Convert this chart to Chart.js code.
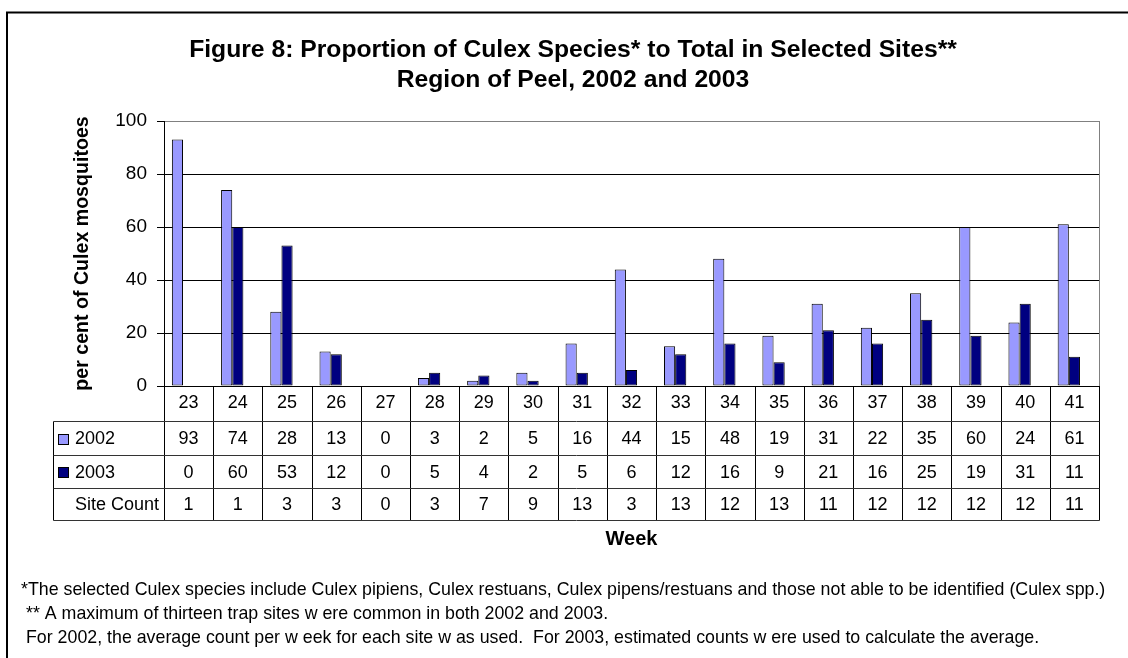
<!DOCTYPE html>
<html>
<head>
<meta charset="utf-8">
<title>Proportion of Culex Species</title>
<script src="https://cdn.jsdelivr.net/npm/chart.js@4.4.1/dist/chart.umd.min.js"></script>
<style>
  html, body { margin: 0; padding: 0; background: #ffffff; }
  canvas { display: block; }
</style>
</head>
<body>
<canvas id="chart" width="1128" height="658"></canvas>
<script>
// Week numbers along the category axis
const weeks = ['23', '24', '25', '26', '27', '28', '29', '30', '31', '32',
               '33', '34', '35', '36', '37', '38', '39', '40', '41'];

// Per cent of Culex mosquitoes, by year
const pct2002 = [93, 74, 28, 13, 0, 3, 2, 5, 16, 44, 15, 48, 19, 31, 22, 35, 60, 24, 61];
const pct2003 = [0, 60, 53, 12, 0, 5, 4, 2, 5, 6, 12, 16, 9, 21, 16, 25, 19, 31, 11];

// Number of trap sites per week
const siteCount = [1, 1, 3, 3, 0, 3, 7, 9, 13, 3, 13, 12, 13, 11, 12, 12, 12, 12, 11];

// Value axis
const yMin = 0;
const yMax = 100;
const yStep = 20;

// Text
const titleLines = [
  'Figure 8: Proportion of Culex Species* to Total in Selected Sites**',
  'Region of Peel, 2002 and 2003'
];
const yAxisTitle = 'per cent of Culex mosquitoes';
const xAxisTitle = 'Week';
const seriesNames = ['2002', '2003'];
const siteRowName = 'Site Count';
const notes = [
  '*The selected Culex species include Culex pipiens, Culex restuans, Culex pipens/restuans and those not able to be identified (Culex spp.)',
  '** A maximum of thirteen trap sites w ere common in both 2002 and 2003.',
  'For 2002, the average count per w eek for each site w as used.  For 2003, estimated counts w ere used to calculate the average.'
];

const colors = ['#9999ff', '#000080'];
const FONT = "'Liberation Sans', Arial, Helvetica, sans-serif";

// Frame, titles, data table and notes drawn around the plot
const decorations = {
  id: 'decorations',
  beforeDraw(chart) {
    const ctx = chart.ctx;
    ctx.save();
    ctx.fillStyle = '#ffffff';
    ctx.fillRect(0, 0, chart.width, chart.height);
    // outer frame
    ctx.strokeStyle = '#000000';
    ctx.lineWidth = 2;
    ctx.beginPath();
    ctx.moveTo(7, chart.height + 2);
    ctx.lineTo(7, 12.5);
    ctx.lineTo(chart.width + 2, 12.5);
    ctx.stroke();
    ctx.restore();
  },
  afterDraw(chart) {
    const ctx = chart.ctx;
    const area = chart.chartArea;
    const xs = chart.scales.x;
    ctx.save();

    // chart title
    ctx.fillStyle = '#000000';
    ctx.textAlign = 'center';
    ctx.textBaseline = 'alphabetic';
    ctx.font = 'bold 24.7px ' + FONT;
    ctx.fillText(titleLines[0], 573, 57);
    ctx.fillText(titleLines[1], 573, 87);

    // value axis title
    ctx.save();
    ctx.translate(83, (area.top + area.bottom) / 2);
    ctx.rotate(-Math.PI / 2);
    ctx.textBaseline = 'middle';
    ctx.font = 'bold 19.6px ' + FONT;
    ctx.fillText(yAxisTitle, 0, 0);
    ctx.restore();

    // plot area right edge
    ctx.strokeStyle = '#808080';
    ctx.lineWidth = 1;
    ctx.beginPath();
    ctx.moveTo(Math.round(area.right) + 0.5, area.top);
    ctx.lineTo(Math.round(area.right) + 0.5, area.bottom);
    ctx.stroke();

    // data table under the axis
    const rowEdges = [0, 35, 69, 102, 134].map(d => Math.round(area.bottom) + d + 0.5);
    const legendLeft = 53.5;
    const step = (xs.getPixelForValue(1) - xs.getPixelForValue(0));

    ctx.strokeStyle = '#000000';
    ctx.beginPath();
    for (let i = 0; i <= weeks.length; i++) {
      const x = Math.round(xs.getPixelForValue(i) - step / 2) + 0.5;
      ctx.moveTo(x, rowEdges[0]);
      ctx.lineTo(x, rowEdges[4]);
    }
    ctx.moveTo(legendLeft, rowEdges[1]);
    ctx.lineTo(legendLeft, rowEdges[4]);
    ctx.stroke();

    ctx.strokeStyle = '#333333';
    ctx.beginPath();
    for (let r = 1; r <= 4; r++) {
      ctx.moveTo(legendLeft, rowEdges[r]);
      ctx.lineTo(Math.round(area.right) + 0.5, rowEdges[r]);
    }
    ctx.stroke();

    const rows = [pct2002, pct2003, siteCount];
    ctx.font = '18px ' + FONT;
    ctx.textBaseline = 'middle';
    ctx.textAlign = 'center';
    rows.forEach((vals, r) => {
      const cy = (rowEdges[r + 1] + rowEdges[r + 2]) / 2 + 1;
      vals.forEach((v, i) => {
        ctx.fillText(String(v), xs.getPixelForValue(i), cy);
      });
    });

    // row headers with legend keys
    ctx.textAlign = 'left';
    const headers = [seriesNames[0], seriesNames[1], siteRowName];
    headers.forEach((h, r) => {
      const cy = (rowEdges[r + 1] + rowEdges[r + 2]) / 2 + 1;
      if (r < 2) {
        ctx.fillStyle = colors[r];
        ctx.fillRect(59, Math.round(cy) - 5, 9, 9);
        ctx.strokeStyle = '#000000';
        ctx.strokeRect(58.5, Math.round(cy) - 5.5, 10, 10);
      }
      ctx.fillStyle = '#000000';
      ctx.fillText(h, 75, cy);
    });

    // category axis title
    ctx.textAlign = 'center';
    ctx.font = 'bold 20px ' + FONT;
    ctx.fillText(xAxisTitle, (area.left + area.right) / 2, 539);

    // notes
    ctx.textAlign = 'left';
    ctx.font = '17.8px ' + FONT;
    ctx.fillText(notes[0], 21, 590);
    ctx.fillText(notes[1], 26, 614);
    ctx.fillText(notes[2], 26, 638);

    ctx.restore();
  }
};

new Chart(document.getElementById('chart'), {
  type: 'bar',
  data: {
    labels: weeks,
    datasets: [
      {
        label: seriesNames[0],
        data: pct2002,
        backgroundColor: colors[0],
        borderColor: '#000000',
        borderWidth: 1,
        borderSkipped: false
      },
      {
        label: seriesNames[1],
        data: pct2003,
        backgroundColor: colors[1],
        borderColor: '#000000',
        borderWidth: 1,
        borderSkipped: false
      },
      {
        // empty slot: keeps the bar pair left of the category centre
        label: '',
        data: [],
        backgroundColor: 'rgba(0,0,0,0)',
        borderWidth: 0
      }
    ]
  },
  options: {
    responsive: false,
    devicePixelRatio: 1,
    animation: false,
    categoryPercentage: 0.68,
    barPercentage: 1.0,
    layout: { padding: { top: 121, left: 0, right: 29, bottom: 0 } },
    plugins: {
      legend: { display: false },
      title: { display: false },
      tooltip: { enabled: false }
    },
    scales: {
      x: {
        type: 'category',
        offset: true,
        grid: { display: false, drawTicks: false },
        border: { display: true, color: '#000000', width: 1 },
        ticks: {
          color: '#000000',
          font: { family: FONT, size: 18 },
          padding: 6,
          maxRotation: 0,
          autoSkip: false
        },
        afterFit(scale) { scale.height = 272; }
      },
      y: {
        min: yMin,
        max: yMax,
        ticks: {
          stepSize: yStep,
          color: '#000000',
          font: { family: FONT, size: 19 },
          padding: 10
        },
        grid: {
          color: ctx => (ctx.tick && ctx.tick.value === yMax ? '#808080' : '#000000'),
          tickColor: '#000000',
          lineWidth: 1,
          tickLength: 7,
          drawTicks: true
        },
        border: { display: true, color: '#000000', width: 1 },
        afterFit(scale) { scale.width = 164; }
      }
    }
  },
  plugins: [decorations]
});
</script>
</body>
</html>
